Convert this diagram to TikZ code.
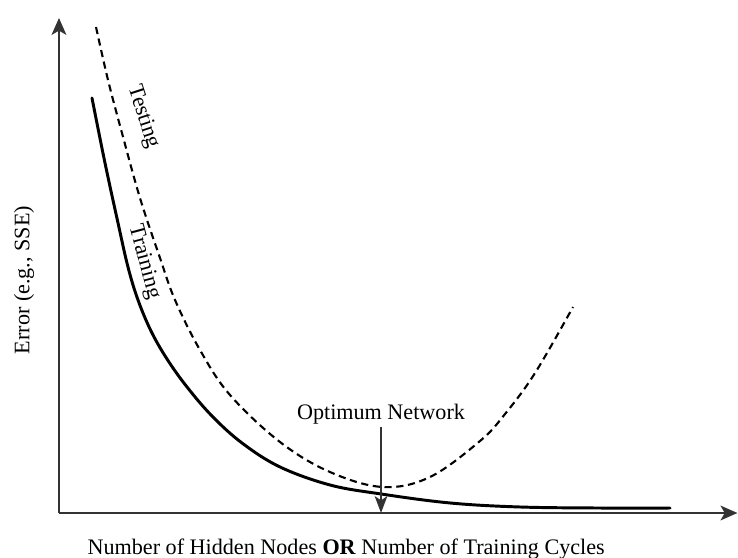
\documentclass[tikz,border=0pt]{standalone}
\usepackage{fontspec}
\setmainfont{Liberation Serif}
\usetikzlibrary{arrows.meta}

\tikzset{
    axisline/.style = {line width = 0.9pt, draw = black!80, -{Stealth[length = 8pt, width = 7pt, inset = 2pt]}},
    trainline/.style = {line width = 1.4pt, line cap = round},
    testline/.style = {line width = 1.0pt, dash pattern = on 3.4pt off 2.2pt},
    pointer/.style = {line width = 0.7pt, draw = black!80, -{Stealth[length = 8pt, width = 6pt, inset = 2pt]}},
    plainlabel/.style = {font = \fontsize{10.5}{12.5}\selectfont, inner sep = 1pt},
}

\begin{document}
\begin{tikzpicture}
    \useasboundingbox (+0.000, +0.000) rectangle (+12.300, +9.300);

    % === Axes ===
    \coordinate (origin) at (+0.983, +0.750);
    \coordinate (ytip) at (+0.983, +9.000);
    \coordinate (xtip) at (+12.290, +0.750);
    \draw[axisline] (origin) -- (ytip);
    \draw[axisline] (origin) -- (xtip);

    % Axis labels
    \node[plainlabel, rotate = 90] (ylabel) at (+0.400, +4.633) {Error (e.g., SSE)};
    \node[plainlabel, anchor = base] (xlabel) at (+5.770, +0.060)
        {Number of Hidden Nodes \textbf{OR} Number of Training Cycles};

    % === Training curve ===
    \draw[trainline] plot[smooth, tension = 0.6] coordinates {
        (+1.533, +7.667) (+1.750, +6.583) (+1.967, +5.583) (+2.133, +4.850)
        (+2.300, +4.300) (+2.517, +3.783) (+2.783, +3.317) (+3.117, +2.850)
        (+3.533, +2.367) (+4.033, +1.917) (+4.667, +1.517) (+5.500, +1.217)
        (+6.350, +1.067) (+7.500, +0.917) (+8.667, +0.850) (+10.000, +0.833)
        (+11.167, +0.833)};
    \node[plainlabel, rotate = -75] (training) at (+2.400, +4.933) {Training};

    % === Testing curve ===
    \draw[testline] plot[smooth, tension = 0.6] coordinates {
        (+1.600, +8.850) (+1.800, +7.967) (+2.033, +7.083) (+2.333, +6.000)
        (+2.667, +5.000) (+2.917, +4.300) (+3.333, +3.467) (+3.833, +2.717)
        (+4.667, +1.933) (+5.500, +1.433) (+6.383, +1.183) (+7.167, +1.350)
        (+8.000, +1.950) (+8.417, +2.400) (+8.917, +3.083) (+9.550, +4.183)};
    \node[plainlabel, rotate = -72] (testing) at (+2.383, +7.350) {Testing};

    % === Optimum ===
    \node[plainlabel] (optimum) at (+6.350, +2.400) {Optimum Network};
    \coordinate (optfoot) at (+6.350, +0.750);
    \draw[pointer] (optimum.south) -- (optfoot);
\end{tikzpicture}
\end{document}
